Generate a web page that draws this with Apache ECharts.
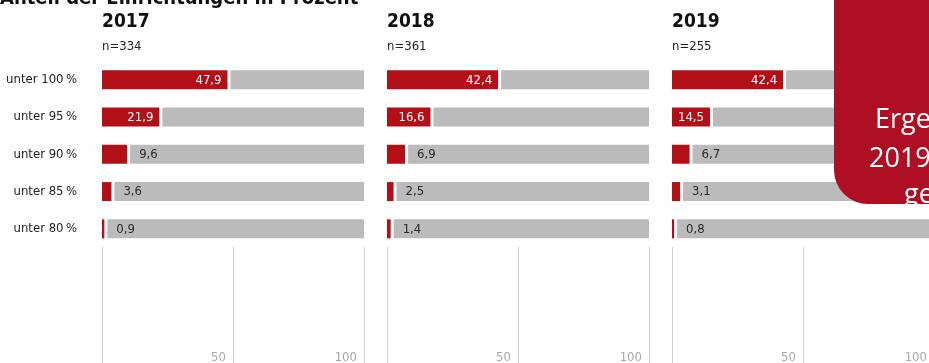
<!DOCTYPE html>
<html>
<head>
<meta charset="utf-8">
<script src="https://cdn.jsdelivr.net/npm/echarts@6/dist/echarts.min.js"></script>
<style>
  html, body { margin: 0; padding: 0; background: #fff; }
  #chart { width: 929px; height: 363px; }
</style>
</head>
<body>
<div id="chart"></div>
<script>
// Shares of facilities below each threshold, per year
const categories = ['unter 100\u202F%', 'unter 95\u202F%', 'unter 90\u202F%', 'unter 85\u202F%', 'unter 80\u202F%'];
const years = ['2017', '2018', '2019'];
const sampleSizes = ['n=334', 'n=361', 'n=255'];
const values2017 = [47.9, 21.9, 9.6, 3.6, 0.9];
const values2018 = [42.4, 16.6, 6.9, 2.5, 1.4];
const values2019 = [42.4, 14.5, 6.7, 3.1, 0.8];
const axisTicks = [0, 50, 100];

const yearValues = [values2017, values2018, values2019];

const RED = '#b20f16';
const GRAY = '#bbbbbb';
const FONT = "'Liberation Sans Narrow', 'DejaVu Sans Condensed', 'Noto Sans', sans-serif";

const panelLeft = [102, 387, 672];
const panelWidth = 262;
const chartWidth = 929;
const barsTop = 61;
const barsHeight = 186.5;

const fmt = v => v.toFixed(1).replace('.', ',');

function renderItem(params, api) {
  const cat = api.value(0);
  const v = api.value(1);
  const p0 = api.coord([axisTicks[0], cat]);
  const p1 = api.coord([v, cat]);
  const p2 = api.coord([axisTicks[axisTicks.length - 1], cat]);
  const h = 19;
  const gap = 3;
  const y = p0[1] - h / 2;
  const inside = (p1[0] - p0[0]) > 32;
  return {
    type: 'group',
    children: [
      { type: 'rect', shape: { x: p0[0], y: y, width: p1[0] - p0[0], height: h }, style: { fill: RED } },
      { type: 'rect', shape: { x: p1[0] + gap, y: y, width: p2[0] - p1[0] - gap, height: h }, style: { fill: GRAY } },
      {
        type: 'text',
        style: {
          text: fmt(v),
          x: inside ? p1[0] - 6 : p1[0] + gap + 9,
          y: p0[1] + 0.5,
          align: inside ? 'right' : 'left',
          verticalAlign: 'middle',
          fill: inside ? '#ffffff' : '#2a2a2a',
          fontSize: 13,
          fontFamily: FONT
        }
      }
    ]
  };
}

const grids = [];
const xAxes = [];
const yAxes = [];
const series = [];
const titles = [];

years.forEach((yr, i) => {
  const right = chartWidth - panelLeft[i] - panelWidth;
  // bar panel
  grids.push({ left: panelLeft[i], right: right, top: barsTop, height: barsHeight, outerBoundsMode: 'none', containLabel: false });
  xAxes.push({ gridIndex: 2 * i, type: 'value', min: axisTicks[0], max: axisTicks[2], show: false });
  yAxes.push({
    gridIndex: 2 * i, type: 'category', data: categories, inverse: true,
    axisLine: { show: false }, axisTick: { show: false },
    axisLabel: { show: i === 0, margin: 25, color: '#222', fontSize: 13, fontFamily: FONT }
  });
  series.push({
    type: 'custom', xAxisIndex: 2 * i, yAxisIndex: 2 * i,
    data: yearValues[i].map((v, k) => [k, v]),
    encode: { x: 1, y: 0 },
    renderItem: renderItem,
    silent: true
  });

  // scale panel below the bars
  grids.push({ left: panelLeft[i], right: right, top: 247, bottom: 0, outerBoundsMode: 'none', containLabel: false });
  xAxes.push({
    gridIndex: 2 * i + 1, type: 'value', min: axisTicks[0], max: axisTicks[2], interval: axisTicks[1] - axisTicks[0],
    axisLine: { show: false }, axisTick: { show: false },
    splitLine: { show: true, lineStyle: { color: '#cfcfcf', width: 1 } },
    axisLabel: {
      inside: true, margin: -1, align: 'right', padding: [0, 7, 0, 0],
      color: '#a8a8a8', fontSize: 13, fontFamily: FONT,
      formatter: v => (v === axisTicks[0] ? '' : String(v))
    }
  });
  yAxes.push({ gridIndex: 2 * i + 1, type: 'value', show: false, min: 0, max: 1 });

  titles.push({
    text: yr, left: panelLeft[i], top: 13, padding: 0,
    textStyle: { fontSize: 19, fontWeight: 'bold', color: '#111', fontFamily: FONT }
  });
  titles.push({
    text: sampleSizes[i], left: panelLeft[i], top: 40, padding: 0,
    textStyle: { fontSize: 13, fontWeight: 'normal', color: '#222', fontFamily: FONT }
  });
});

const chart = echarts.init(document.getElementById('chart'), null, { renderer: 'canvas' });
chart.setOption({
  animation: false,
  backgroundColor: '#ffffff',
  title: titles,
  grid: grids,
  xAxis: xAxes,
  yAxis: yAxes,
  series: series,
  graphic: [
    {
      type: 'text', left: 0, top: -11, z: 10,
      style: { text: 'Anteil der Einrichtungen in Prozent', fontSize: 20, fontWeight: 'bold', fill: '#111', fontFamily: FONT }
    },
    {
      type: 'group', zlevel: 1, z: 100,
      children: [
        { type: 'rect', zlevel: 1, shape: { x: 834, y: -40, width: 140, height: 244, r: [0, 0, 0, 34] }, style: { fill: '#af0f22' } },
        { type: 'text', zlevel: 1, style: { text: 'Ergebnisse', x: 875, y: 107, verticalAlign: 'alphabetic', fill: '#fff', fontSize: 27, fontFamily: "'Open Sans', sans-serif" } },
        { type: 'text', zlevel: 1, style: { text: '2019 im Vergleich', x: 869, y: 146, verticalAlign: 'alphabetic', fill: '#fff', fontSize: 27, fontFamily: "'Open Sans', sans-serif" } },
        { type: 'text', zlevel: 1, style: { text: 'gesamt', x: 904, y: 182, verticalAlign: 'alphabetic', fill: '#fff', fontSize: 27, fontFamily: "'Open Sans', sans-serif" } }
      ]
    }
  ]
});
</script>
</body>
</html>
